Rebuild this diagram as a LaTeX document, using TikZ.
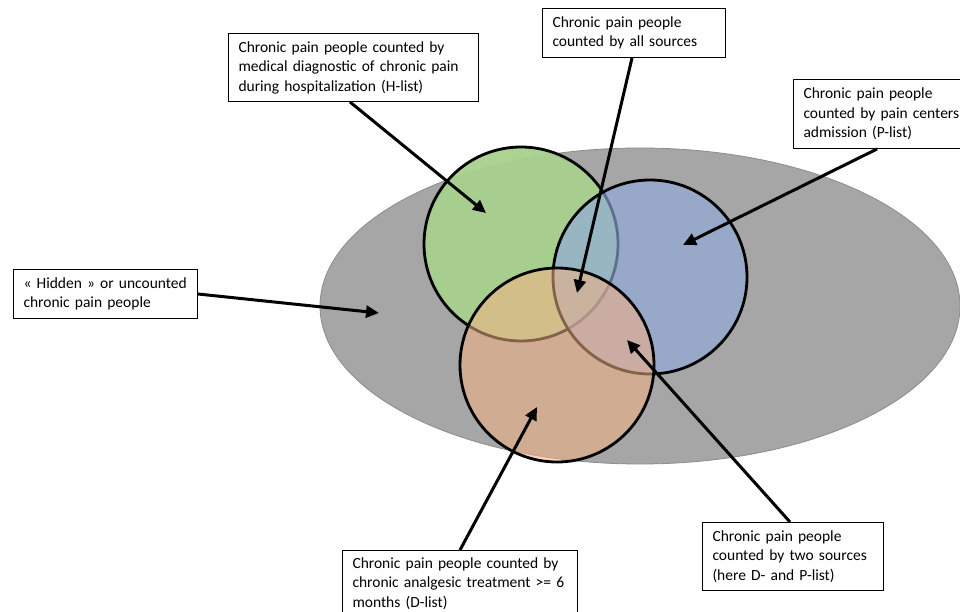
\documentclass[tikz,border=0pt]{standalone}
\usepackage{fontspec}
\setmainfont{Carlito}
\usetikzlibrary{arrows.meta,shapes.geometric}
\definecolor{popgray}{HTML}{A6A6A6}
\definecolor{popedge}{HTML}{8C8C8C}
\definecolor{hgreen}{HTML}{A9D18E}
\definecolor{pblue}{HTML}{8FAADC}
\definecolor{dorange}{HTML}{F4B183}
\begin{document}
\begin{tikzpicture}[x=1pt,y=-1pt,
  tbox/.style={draw=black, line width=1pt, fill=white, anchor=north west, align=left,
    inner xsep=10pt, inner ysep=0pt, font=\fontsize{15.5}{19.5}\selectfont},
  arr/.style={line width=3pt, -{Triangle[length=13pt,width=12pt]}},
  venn/.style={circle, draw=black, line width=2.8pt, inner sep=0pt, minimum size=194pt}]
\useasboundingbox (0,0) rectangle (960,612);
\clip (0,0) rectangle (960,612);
% population ellipse
\node[ellipse, draw=popedge, line width=0.8pt, fill=popgray, minimum width=640pt, minimum height=316pt, inner sep=0pt] (pop) at (640,306) {};
% circles
\node[venn, fill=hgreen, fill opacity=0.95] (hc) at (521,244) {};
\node[venn, fill=pblue, fill opacity=0.65] (pc) at (650,277) {};
\node[venn, fill=dorange, fill opacity=0.55] (dc) at (557,365) {};
% text boxes
\node[tbox, text width=230pt, minimum height=68pt] (hbox) at (228,33) {Chronic pain people counted by\\medical diagnostic of chronic pain\\during hospitalization (H-list)};
\node[tbox, text width=163pt, minimum height=49pt] (abox) at (542,8) {Chronic pain people\\counted by all sources};
\node[tbox, text width=170pt, minimum height=69pt] (pbox) at (793,79) {Chronic pain people\\counted by pain centers\\admission (P-list)};
\node[tbox, text width=164pt, minimum height=49pt] (xbox) at (13,269) {« Hidden » or uncounted\\chronic pain people};
\node[tbox, text width=215pt, minimum height=66pt] (dbox) at (342,550) {Chronic pain people counted by\\chronic analgesic treatment >= 6\\months (D-list)};
\node[tbox, text width=161pt, minimum height=68pt] (tbox2) at (702,522) {Chronic pain people\\counted by two sources\\(here D- and P-list)};
% arrow targets
\coordinate (th) at (486,213);
\coordinate (ta) at (577,293);
\coordinate (tp) at (683,245);
\coordinate (tx) at (379,313);
\coordinate (td) at (537,407);
\coordinate (tt) at (627,340);
% arrows
\draw[arr] ([xshift=122pt]hbox.south west) -- (th);
\draw[arr] ([xshift=90pt]abox.south west) -- (ta);
\draw[arr] ([xshift=84pt]pbox.south west) -- (tp);
\draw[arr] (xbox.east) -- (tx);
\draw[arr] ([xshift=118pt]dbox.north west) -- (td);
\draw[arr] ([xshift=88pt]tbox2.north west) -- (tt);
\end{tikzpicture}
\end{document}
